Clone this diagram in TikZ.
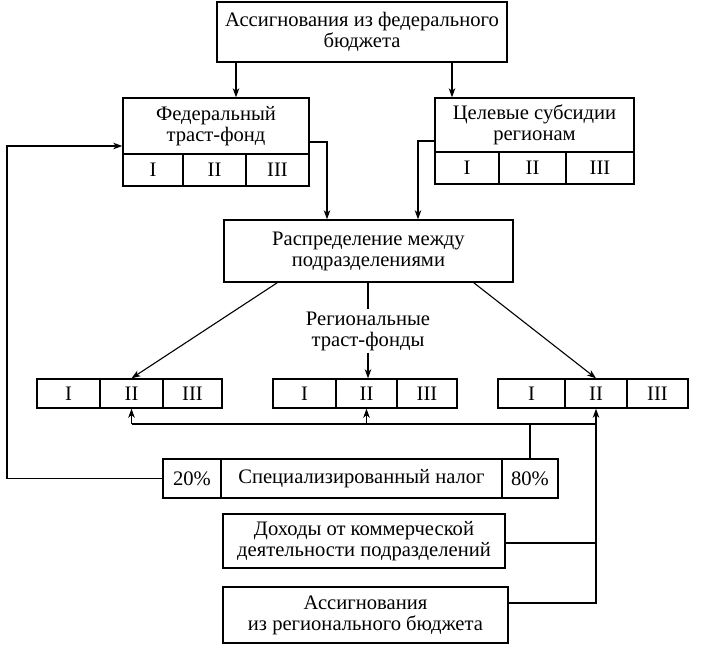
\documentclass[tikz,border=0pt]{standalone}
\usepackage{fontspec}
\setmainfont{Liberation Serif}
\usetikzlibrary{arrows.meta,calc}
\newcommand\fsz{\fontsize{20.6}{21}\selectfont}
\tikzset{
  box/.style={draw, line width=1.4pt, inner sep=0pt, align=center, font=\fsz},
  sz/.style 2 args={minimum width=#1pt, minimum height=#2pt},
  conn/.style={line width=1.1pt},
  arr/.style={conn, -{Stealth[length=9pt,width=6.5pt,inset=2.5pt]}},
}
\begin{document}
\begin{tikzpicture}[x=1pt,y=-1pt]
\fill[white] (0,0) rectangle (720,646);
\useasboundingbox (0,0) rectangle (720,646);
% helper coordinates
\coordinate (xa) at (236,0);
\coordinate (xb) at (452,0);
\coordinate (yfedout) at (0,142);
\coordinate (x327) at (327,0);
\coordinate (ysubout) at (0,141);
\coordinate (x418) at (418,0);
\coordinate (xleft) at (7,0);
\coordinate (yfedin) at (0,146);
\coordinate (bus) at (0,424);
\coordinate (ydoh) at (0,543);
\coordinate (yass) at (0,603);
% nodes
\node[box, sz={290}{60}] (top) at (362,32) {Ассигнования из федерального\\бюджета};
\node[box, sz={186}{56}] (fed) at (216,126) {Федеральный\\траст-фонд};
\node[box, sz={60}{32}] (f1) at (153,170) {I};
\node[box, sz={63}{32}] (f2) at (214.5,170) {II};
\node[box, sz={63}{32}] (f3) at (277.5,170) {III};
\node[box, sz={199}{54}] (sub) at (534.5,125) {Целевые субсидии\\регионам};
\node[box, sz={64}{32}] (s1) at (467,168) {I};
\node[box, sz={67}{32}] (s2) at (532.5,168) {II};
\node[box, sz={68}{32}] (s3) at (600,168) {III};
\node[box, sz={289}{62}] (rasp) at (368.5,251) {Распределение между\\подразделениями};
\node[align=center, font=\fsz, inner sep=2pt] (lbl) at (368,331) {Региональные\\траст-фонды};
\node[box, sz={63}{29}] (l1) at (68.5,393.5) {I};
\node[box, sz={63}{29}] (l2) at (131.5,393.5) {II};
\node[box, sz={59}{29}] (l3) at (192.5,393.5) {III};
\node[box, sz={63}{29}] (m1) at (304.5,393.5) {I};
\node[box, sz={61}{29}] (m2) at (366.5,393.5) {II};
\node[box, sz={60}{29}] (m3) at (427,393.5) {III};
\node[box, sz={67}{29}] (r1) at (531.5,393.5) {I};
\node[box, sz={62}{29}] (r2) at (596,393.5) {II};
\node[box, sz={61}{29}] (r3) at (657.5,393.5) {III};
\node[box, sz={58}{39}] (p20) at (192,478.5) {20\%};
\node[box, sz={281}{39}] (spec) at (361.5,478.5) {Специализированный налог};
\node[box, sz={56}{39}] (p80) at (530,478.5) {80\%};
\node[box, sz={282}{54}] (doh) at (364,541) {Доходы от коммерческой\\деятельности подразделений};
\node[box, sz={285}{56}] (ass) at (365.5,615) {Ассигнования\\из регионального бюджета};
% connectors
\draw[arr] (top.south -| xa) -- (fed.north -| xa);
\draw[arr] (top.south -| xb) -- (sub.north -| xb);
\draw[arr] (fed.east |- yfedout) -| (rasp.north -| x327);
\draw[arr] (sub.west |- ysubout) -| (rasp.north -| x418);
\draw[arr] (p20.west) -| (xleft |- yfedin) -- (fed.west |- yfedin);
\draw[arr] ([xshift=54pt]rasp.south west) -- (l2.north);
\draw[arr] ([xshift=-40pt]rasp.south east) -- (r2.north);
\draw[conn] (rasp.south -| lbl) -- (lbl.north);
\draw[arr] (lbl.south) -- (lbl.south |- m2.north);
\draw[conn] (l2.south |- bus) -- (r2.south |- bus);
\draw[arr] (l2.south |- bus) -- (l2.south);
\draw[arr] (m2.south |- bus) -- (m2.south);
\draw[conn] (p80.north) -- (p80.north |- bus);
\draw[arr] (ass.east |- yass) -| (r2.south);
\draw[conn] (doh.east |- ydoh) -- (r2.south |- ydoh);
\end{tikzpicture}
\end{document}
